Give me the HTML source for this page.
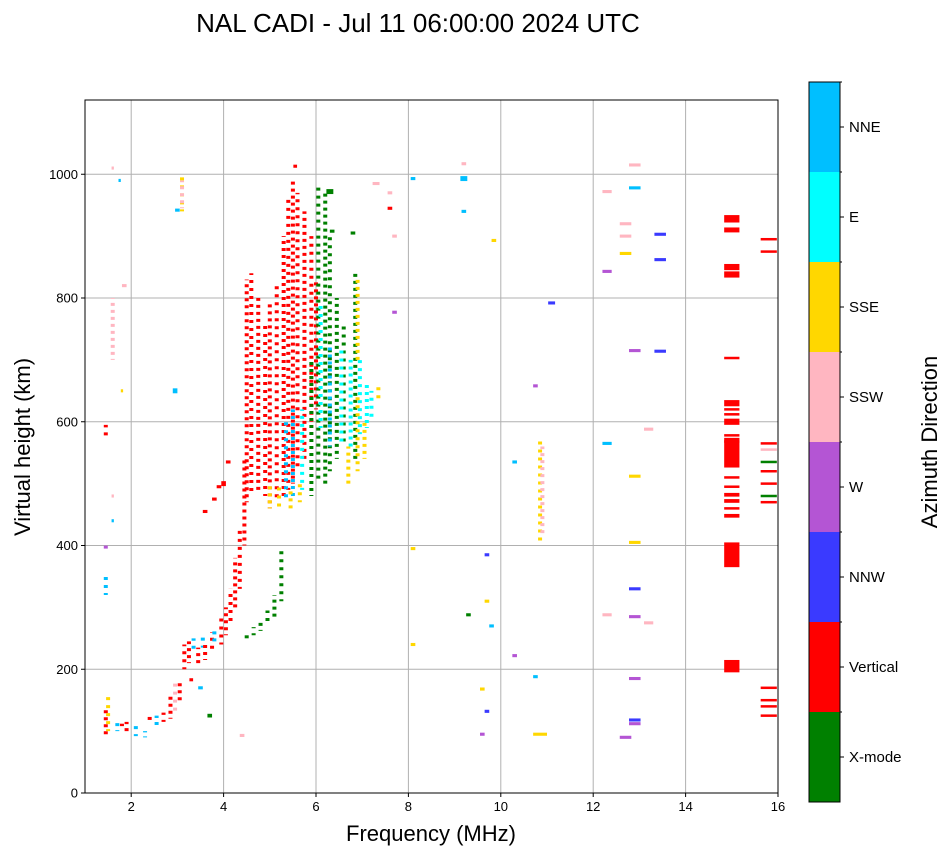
<!DOCTYPE html>
<html><head><meta charset="utf-8"><style>
body{margin:0;background:#fff;font-family:"Liberation Sans",sans-serif}
svg text{font-family:"Liberation Sans",sans-serif}
</style></head><body>
<svg id="chart" width="951" height="856" viewBox="0 0 951 856">
<text x="418" y="32" font-size="26" text-anchor="middle">NAL CADI - Jul 11 06:00:00 2024 UTC</text>
<g id="grid"></g>
<g id="marks"></g>
<rect x="85" y="100" width="693" height="693" fill="none" stroke="#000" stroke-width="1"/>
<g id="axes"></g>
<text x="431" y="841" font-size="22" text-anchor="middle">Frequency (MHz)</text>
<text transform="translate(30,447) rotate(-90)" font-size="22" text-anchor="middle">Virtual height (km)</text>
<g id="cbar"></g>
<text transform="translate(937,442) rotate(-90)" font-size="22" text-anchor="middle">Azimuth Direction</text>
</svg>
<script>
const xTicks=[2,4,6,8,10,12,14,16];
const yTicks=[0,200,400,600,800,1000];
const dirNames=["X-mode","Vertical","NNW","W","SSW","SSE","E","NNE"];
const dirColors=["#008000","#ff0000","#3a3aff","#b455d4","#ffb6c1","#ffd700","#00ffff","#00bfff"];
// strips: [freq, hLow, hHigh, dir]
const strips=[
[1.45,95,140,1],[1.5,100,160,5],[1.7,100,115,7],[1.8,100,112,1],[1.9,100,115,1],[2.1,92,110,7],[2.3,90,100,7],[2.4,110,125,1],[2.55,110,125,7],[2.7,115,130,1],[2.85,120,160,1],[2.95,125,180,4],[3.05,150,180,1],
[3.15,200,240,1],[3.25,210,245,1],[3.35,225,250,7],[3.45,210,235,1],[3.55,235,255,7],[3.6,215,240,1],[3.75,225,260,1],[3.8,245,262,7],[3.95,240,290,1],[4.05,255,300,1],[4.15,270,330,1],[4.25,300,380,1],[4.35,330,430,1],[4.45,400,540,1],
[4.3,247,252,0],[4.5,250,258,0],[4.65,255,268,0],[4.8,262,280,0],[4.95,270,295,0],[5.1,285,320,0],[5.25,310,395,0],
[4.5,470,830,1],[4.6,480,840,1],[4.75,490,800,1],[4.9,480,760,1],[5.0,460,790,1],[5.15,470,820,1],[5.3,480,900,1],[5.4,490,960,1],[5.5,500,990,1],[5.6,520,970,1],[5.75,540,940,1],[5.9,600,900,1],[6.0,620,830,1],
[5.35,470,600,7],[5.5,480,620,7],[5.7,490,620,6],[5.0,460,500,5],[5.2,455,500,5],[5.45,460,490,5],[5.65,470,500,5],
[5.9,480,700,0],[6.05,500,980,0],[6.2,500,975,0],[6.3,520,900,0],[6.45,540,800,0],[6.6,560,760,0],[6.85,540,840,0],
[6.1,590,790,6],[6.3,560,720,7],[6.55,560,720,6],[6.75,560,700,6],[6.95,580,700,6],[7.1,590,660,6],[7.2,600,650,6],
[6.7,500,560,5],[6.9,520,640,5],[7.05,540,600,5],[7.35,630,660,5],[6.9,700,830,5],
[3.1,940,995,5],[3.1,945,990,4],[1.45,570,595,1],[1.45,395,405,3],[1.45,320,350,7],[1.6,700,800,4],[10.85,400,570,5],[10.9,420,560,4]
];
// blocks: [freq, h, dir, widthMHz, heightKm]
const blocks=[
[15,205,1,0.33,20],[15,385,1,0.33,40],[15,448,1,0.33,6],[15,460,1,0.33,3],[15,472,1,0.33,6],[15,482,1,0.33,6],[15,495,1,0.33,3],[15,510,1,0.33,3],[15,550,1,0.33,48],[15,568,1,0.33,3],[15,578,1,0.33,3],[15,600,1,0.33,10],[15,612,1,0.33,3],[15,620,1,0.33,3],[15,630,1,0.33,10],[15,703,1,0.33,3],[15,838,1,0.33,10],[15,850,1,0.33,10],[15,910,1,0.33,8],[15,928,1,0.33,12],
[15.8,125,1,0.35,4],[15.8,140,1,0.35,4],[15.8,150,1,0.35,4],[15.8,170,1,0.35,4],[15.8,470,1,0.35,4],[15.8,480,0,0.35,4],[15.8,500,1,0.35,4],[15.8,520,1,0.35,4],[15.8,535,0,0.35,4],[15.8,555,4,0.35,4],[15.8,565,1,0.35,4],[15.8,875,1,0.35,4],[15.8,895,1,0.35,4],
[12.9,112,3,0.25,5],[12.9,118,2,0.25,5],[12.9,185,3,0.25,5],[12.9,285,3,0.25,5],[12.9,330,2,0.25,5],[12.9,405,5,0.25,5],[12.9,512,5,0.25,5],[12.9,715,3,0.25,5],[12.9,978,7,0.25,5],[12.9,1015,4,0.25,5],
[12.7,90,3,0.25,5],[13.2,275,4,0.2,5],[13.2,588,4,0.2,5],[12.3,565,7,0.2,5],[12.3,288,4,0.2,5],[12.3,843,3,0.2,5],[12.3,972,4,0.2,5],[12.7,920,4,0.25,5],[12.7,900,4,0.25,5],[12.7,872,5,0.25,5],
[13.45,903,2,0.25,5],[13.45,862,2,0.25,5],[13.45,714,2,0.25,5],[11.1,792,2,0.15,5],[10.85,95,5,0.3,5],[10.75,188,7,0.1,5],[10.3,222,3,0.1,5],[10.3,535,7,0.1,5],[10.75,658,3,0.1,5],
[9.7,385,2,0.1,5],[9.7,132,2,0.1,5],[9.7,310,5,0.1,5],[9.6,168,5,0.1,5],[9.8,270,7,0.1,5],[9.3,288,0,0.1,5],[9.2,940,7,0.1,5],[9.2,993,7,0.15,8],[9.2,1017,4,0.1,5],[9.85,893,5,0.1,5],[9.6,95,3,0.1,5],
[8.1,395,5,0.1,5],[8.1,240,5,0.1,5],[8.1,993,7,0.1,5],[7.7,900,4,0.1,5],[7.6,945,1,0.1,5],[7.6,970,4,0.1,5],[7.7,777,3,0.1,5],[7.3,985,4,0.15,5],
[6.8,905,0,0.1,5],[6.35,908,0,0.1,5],[6.3,972,0,0.15,8],[5.55,1013,1,0.08,5],[3.7,125,0,0.1,6],[3.5,170,7,0.1,5],[3.3,183,1,0.08,5],[4.4,93,4,0.1,5],[2.95,650,7,0.1,8],[3.0,942,7,0.1,5],[1.85,820,4,0.1,5],[1.6,1010,4,0.05,5],[1.75,990,7,0.05,5],[1.8,650,5,0.05,5],[1.6,480,4,0.05,5],[1.6,440,7,0.05,5],[3.6,455,1,0.1,5],[3.8,475,1,0.1,5],[4.0,500,1,0.1,8],[4.1,535,1,0.1,5],[3.9,495,1,0.1,5]
];
const NS="http://www.w3.org/2000/svg";
const X0=85,X1=778,Y0=793,Y1=100;
function fx(f){return X0+(f-1)/(16-1)*(X1-X0);}
function hy(h){return Y0-h/1120*(Y0-Y1);}
const grid=document.getElementById('grid'),axes=document.getElementById('axes'),marks=document.getElementById('marks'),cbar=document.getElementById('cbar');
function mk(tag,attrs,parent){const e=document.createElementNS(NS,tag);for(const k in attrs)e.setAttribute(k,attrs[k]);parent.appendChild(e);return e;}
xTicks.forEach(t=>{
 const x=fx(t);
 const g=mk('line',{x1:x,x2:x,y1:Y1,y2:Y0,stroke:'#b0b0b0','stroke-width':1},grid);
 
 
 const tk=mk('line',{x1:x,x2:x,y1:Y0,y2:Y0+4,stroke:'#000'},axes);
 
 
 const tx=mk('text',{x:x,y:Y0+18,'font-size':13,'text-anchor':'middle'},axes);
 tx.textContent=t;
 
 
});
yTicks.forEach(t=>{
 const y=hy(t);
 const g=mk('line',{x1:X0,x2:X1,y1:y,y2:y,stroke:'#b0b0b0','stroke-width':1},grid);
 
 
 const tk=mk('line',{x1:X0-4,x2:X0,y1:y,y2:y,stroke:'#000'},axes);
 
 
 const tx=mk('text',{x:X0-7,y:y+4.5,'font-size':13,'text-anchor':'end'},axes);
 tx.textContent=t;
 
 
});
strips.forEach((s,i)=>{
 const x=fx(s[0]);
 const l=mk('line',{x1:x,x2:x,y1:hy(s[1]),y2:hy(s[2]),stroke:dirColors[s[3]],'stroke-width':4,'stroke-dasharray':(i%2?'3 5':'3 4'),'stroke-dashoffset':i%4},marks);
 
 
});
blocks.forEach(b=>{
 const x1=fx(b[0]-b[3]/2),x2=fx(b[0]+b[3]/2);
 const hh=Math.max(2.5,b[4]*(Y0-Y1)/1120);
 const r=mk('rect',{x:x1,y:hy(b[1])-hh/2,width:Math.max(2,x2-x1),height:hh,fill:dirColors[b[2]]},marks);
 
 
});
const CB_TOP=82,CB_H=720,CB_X=809,CB_W=31;
dirNames.forEach((n,i)=>{
 const h=CB_H/dirNames.length;
 const y=CB_TOP+CB_H-(i+1)*h;
 const r=mk('rect',{x:CB_X,y:y,width:CB_W,height:h,fill:dirColors[i]},cbar);
 
 
 const tk=mk('line',{x1:CB_X+CB_W,x2:CB_X+CB_W+4,y1:y+h/2,y2:y+h/2,stroke:'#000'},cbar);
 
 
 const tm=mk('line',{x1:CB_X+CB_W,x2:CB_X+CB_W+2,y1:y,y2:y,stroke:'#000'},cbar);
 
 
 const t=mk('text',{x:CB_X+CB_W+9,y:y+h/2+5,'font-size':15},cbar);
 t.textContent=n;
 
 
});
const fr=mk('rect',{x:CB_X,y:CB_TOP,width:CB_W,height:CB_H,fill:'none',stroke:'#000'},cbar);


</script>
</body></html>
